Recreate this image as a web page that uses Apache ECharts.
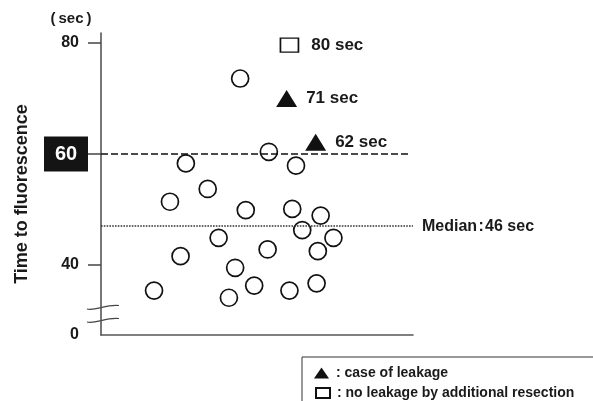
<!DOCTYPE html>
<html>
<head>
<meta charset="utf-8">
<script src="https://cdn.jsdelivr.net/npm/echarts@6/dist/echarts.min.js"></script>
<style>
  html, body { margin: 0; padding: 0; background: #fff; }
  #chart { width: 593px; height: 401px; }
</style>
</head>
<body>
<div id="chart"></div>
<script>
// ---- data ----
const circleX = [44.6, 27.2, 53.8, 62.5, 34.2, 22.1, 46.4, 61.3, 70.4, 64.5, 74.5, 37.7, 53.4, 69.5, 25.5, 43.0, 49.1, 69.1, 17.0, 60.4, 41.0];
const circleY = [73.6, 58.3, 60.4, 57.9, 53.7, 51.4, 49.9, 50.1, 48.9, 46.3, 44.9, 44.9, 42.8, 42.5, 41.6, 39.5, 36.3, 36.7, 35.4, 35.4, 34.1];
const leakX = [59.5, 68.8];
const leakY = [70.0, 62.1];
const leakLabels = ['71 sec', '62 sec'];
const noLeakX = [60.4];
const noLeakY = [79.6];
const noLeakLabels = ['80 sec'];
const yTickValues = [40, 60, 80];
const yBottomLabel = '0';
const thresholdValue = 60;
const medianPosition = 47;
const medianText = 'Median\u200a:\u200a46 sec';
const yAxisTitle = 'Time to fluorescence';
const yUnit = '(\u2009sec\u2009)';
const legendNames = ['case of leakage', 'no leakage by additional resection'];

// ---- layout ----
const yMin = 27.39, yMax = 81.8;
const FONT = "'Liberation Sans', Arial, Helvetica, sans-serif";
const INK = '#1a1a1a';

const chart = echarts.init(document.getElementById('chart'), null, { renderer: 'canvas' });

function pairs(xs, ys) { return xs.map((x, i) => [x, ys[i]]); }

const legendText = { fontSize: 14, fontWeight: 'bold', color: INK, fontFamily: FONT, padding: [0, 0, 0, 2] };

const option = {
  animation: false,
  backgroundColor: '#fff',
  textStyle: { fontFamily: FONT },
  grid: { left: 101, right: 180, top: 33, bottom: 66, containLabel: false },
  xAxis: {
    type: 'value', min: 0, max: 100,
    axisLine: { show: true, lineStyle: { color: '#555', width: 1.6 } },
    axisTick: { show: false }, axisLabel: { show: false }, splitLine: { show: false }
  },
  yAxis: {
    type: 'value', min: yMin, max: yMax,
    axisLine: { show: true, lineStyle: { color: '#555', width: 1.6 } },
    splitLine: { show: false },
    axisTick: { show: true, inside: false, length: 13, customValues: yTickValues, lineStyle: { color: '#444', width: 1.5 } },
    axisLabel: {
      show: true, margin: 13,
      customValues: [yMin].concat(yTickValues),
      formatter: function (v) {
        if (v < 30) return '{n|' + yBottomLabel + '}';
        if (Math.abs(v - thresholdValue) < 0.01) return '{b|' + v + '}';
        return '{n|' + v + '}';
      },
      rich: {
        n: { fontSize: 16, fontWeight: 'bold', color: INK, fontFamily: FONT, padding: [0, 9, 0, 0] },
        b: { fontSize: 20, fontWeight: 'bold', color: '#fff', fontFamily: FONT, backgroundColor: '#141414',
             width: 44, height: 35, lineHeight: 35, align: 'center' }
      }
    }
  },
  legend: [
    {
      show: true, data: [{ name: legendNames[0], icon: 'triangle' }],
      orient: 'horizontal', left: 302, top: 366, padding: [0, 0, 0, 12],
      itemWidth: 15, itemHeight: 11, selectedMode: false,
      formatter: ': {name}', textStyle: legendText
    },
    {
      show: true, data: [{ name: legendNames[1], icon: 'rect' }],
      orient: 'horizontal', left: 302, top: 386, padding: [0, 0, 0, 13],
      itemWidth: 14, itemHeight: 10, selectedMode: false,
      formatter: ': {name}', textStyle: legendText
    }
  ],
  series: [
    {
      name: 'circles', type: 'scatter', silent: true,
      symbol: 'circle', symbolSize: 17,
      itemStyle: { color: '#fff', borderColor: '#111', borderWidth: 1.7, opacity: 1 },
      data: pairs(circleX, circleY),
      z: 3,
      markLine: {
        silent: true, symbol: 'none', animation: false,
        data: [
          [
            { coord: [0, thresholdValue], lineStyle: { color: '#111', width: 1.6, type: [7, 3] }, label: { show: false } },
            { coord: [98.4, thresholdValue] }
          ],
          [
            { coord: [0, medianPosition], lineStyle: { color: '#333', width: 1.5, type: [1.6, 1.2] },
              label: { show: true, position: 'end', formatter: medianText, distance: 9,
                       fontSize: 16, fontWeight: 'bold', color: INK, fontFamily: FONT } },
            { coord: [100, medianPosition] }
          ]
        ]
      }
    },
    {
      name: legendNames[0], type: 'scatter', silent: true,
      symbol: 'triangle', symbolSize: [21, 17],
      itemStyle: { color: '#111', borderColor: '#111', borderWidth: 0, opacity: 1 },
      data: pairs(leakX, leakY),
      z: 4,
      label: {
        show: true, position: 'right', distance: 9,
        formatter: function (p) { return leakLabels[p.dataIndex]; },
        fontSize: 17, fontWeight: 'bold', color: INK, fontFamily: FONT
      }
    },
    {
      name: legendNames[1], type: 'scatter', silent: true,
      symbol: 'rect', symbolSize: [18, 14],
      itemStyle: { color: '#fff', borderColor: '#111', borderWidth: 1.5, opacity: 1 },
      data: pairs(noLeakX, noLeakY),
      z: 4,
      label: {
        show: true, position: 'right', distance: 12,
        formatter: function (p) { return noLeakLabels[p.dataIndex]; },
        fontSize: 17, fontWeight: 'bold', color: INK, fontFamily: FONT
      }
    }
  ],
  graphic: [
    {
      type: 'text', x: 22, y: 194, rotation: Math.PI / 2,
      style: { text: yAxisTitle, fontSize: 18, fontWeight: 'bold', fill: INK, fontFamily: FONT,
               textAlign: 'center', textVerticalAlign: 'middle' }
    },
    {
      type: 'text', x: 71, y: 19,
      style: { text: yUnit, fontSize: 15, fontWeight: 'bold', fill: INK, fontFamily: FONT,
               textAlign: 'center', textVerticalAlign: 'middle' }
    },
    {
      type: 'rect',
      shape: { x: 302, y: 357, width: 320, height: 80 },
      style: { stroke: '#333', lineWidth: 1, fill: null }
    },
    {
      type: 'bezierCurve',
      shape: { x1: 87, y1: 309, cpx1: 96, cpy1: 311, cpx2: 106, cpy2: 304, x2: 119, y2: 305.5 },
      style: { stroke: '#444', lineWidth: 1.2, fill: null }
    },
    {
      type: 'bezierCurve',
      shape: { x1: 87, y1: 322, cpx1: 96, cpy1: 324, cpx2: 106, cpy2: 317, x2: 119, y2: 318.5 },
      style: { stroke: '#444', lineWidth: 1.2, fill: null }
    }
  ]
};

chart.setOption(option);
</script>
</body>
</html>
